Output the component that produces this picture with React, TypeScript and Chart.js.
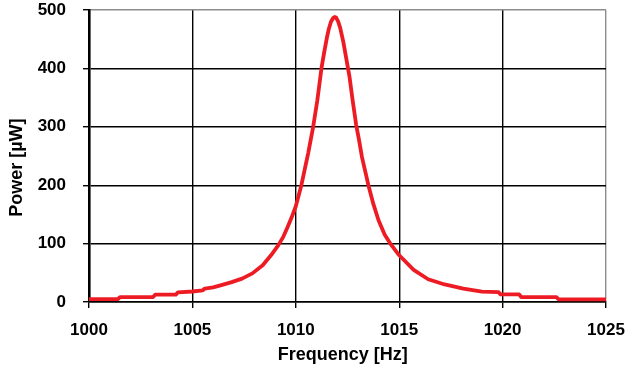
import React, { useEffect, useRef } from "react";
import { Chart, registerables } from "chart.js";

Chart.register(...registerables);

// Frequency [Hz] of each sampled point
const frequencies = [
  1000, 1001.4, 1001.5, 1003.1, 1003.2, 1004.2, 1004.3, 1005.0, 1005.5, 1005.6,
  1006.0, 1006.4, 1006.9, 1007.4, 1007.9, 1008.4, 1008.8, 1009.15, 1009.4, 1009.6,
  1009.8, 1010.0, 1010.27, 1010.45, 1010.6, 1010.84, 1011.04, 1011.24, 1011.37, 1011.5,
  1011.6, 1011.7, 1011.8, 1011.88, 1011.95, 1012.05, 1012.15, 1012.3, 1012.45, 1012.6,
  1012.75, 1012.92, 1013.05, 1013.2, 1013.35, 1013.51, 1013.75, 1014.0, 1014.3, 1014.57,
  1015.0, 1015.7, 1016.4, 1017.2, 1018.1, 1019.0, 1019.8, 1019.9, 1020.8, 1020.9,
  1022.6, 1022.7, 1025,
];

// Power [µW] at each frequency
const powers = [
  5, 5, 8.5, 8.5, 12.5, 12.5, 16.5, 18, 20, 23,
  25, 29, 34, 40, 49, 63, 80, 97, 112, 128,
  145, 164, 200, 230, 255, 300, 345, 400, 427, 452,
  468, 480, 486, 488, 487, 480, 469, 445, 415, 385,
  345, 303, 279, 248, 225, 200, 168, 140, 115, 100,
  80, 55, 39, 30, 23, 17.6, 17, 13, 13, 8.5,
  8.5, 4.6, 4.6,
];

const xTicks = [1000, 1005, 1010, 1015, 1020, 1025];
const yTicks = [0, 100, 200, 300, 400, 500];
const xTitle = "Frequency [Hz]";
const yTitle = "Power [µW]";

const FONT = "'Liberation Sans', Arial, Helvetica, sans-serif";

export default function App() {
  const ref = useRef<HTMLCanvasElement>(null);

  useEffect(() => {
    if (!ref.current) return;

    const titlesPlugin = {
      id: "axisTitles",
      afterDraw(chart: any) {
        const { ctx, chartArea } = chart;
        ctx.save();
        ctx.font = `bold 18px ${FONT}`;
        ctx.fillStyle = "#000";
        ctx.textAlign = "center";
        ctx.textBaseline = "middle";
        const w = chartArea.right - chartArea.left;
        const h = chartArea.bottom - chartArea.top;
        ctx.fillText(xTitle, chartArea.left + w * 0.491, chartArea.bottom + 53);
        ctx.translate(chartArea.left - 72, chartArea.top + h * 0.54);
        ctx.rotate(-Math.PI / 2);
        ctx.fillText(yTitle, 0, 0);
        ctx.restore();
      },
    };

    const zeroPad = (scale: any) => {
      scale.paddingTop = 0;
      scale.paddingBottom = 0;
      scale.paddingLeft = 0;
      scale.paddingRight = 0;
    };

    const chart = new Chart(ref.current, {
      type: "line",
      data: {
        datasets: [
          {
            data: frequencies.map((f, i) => ({ x: f, y: powers[i] })),
            borderColor: "rgb(237, 28, 36)",
            borderWidth: 3.8,
            pointRadius: 0,
            tension: 0,
            fill: false,
            borderJoinStyle: "round",
          },
        ],
      },
      options: {
        responsive: false,
        animation: false,
        layout: { padding: { left: 0, top: 10, right: 19, bottom: 0 } },
        plugins: {
          legend: { display: false },
          tooltip: { enabled: false },
        },
        scales: {
          x: {
            type: "linear",
            min: xTicks[0],
            max: xTicks[xTicks.length - 1],
            afterBuildTicks: (scale: any) => {
              scale.ticks = xTicks.map((v) => ({ value: v }));
            },
            afterFit: (scale: any) => {
              scale.height = 70;
              zeroPad(scale);
            },
            ticks: {
              autoSkip: false,
              maxRotation: 0,
              padding: 12,
              color: "#000",
              font: { family: FONT, size: 17, weight: "bold" },
              callback: (v: any) => String(v),
            },
            grid: {
              color: (ctx: any) =>
                ctx.tick && ctx.tick.value === xTicks[xTicks.length - 1] ? "#8c8c8c" : "#000",
              lineWidth: 1.4,
              tickLength: 6,
              tickColor: "#000",
            },
            border: { display: true, color: "#000", width: 1.6 },
          },
          y: {
            type: "linear",
            min: yTicks[0],
            max: yTicks[yTicks.length - 1],
            afterBuildTicks: (scale: any) => {
              scale.ticks = yTicks.map((v) => ({ value: v }));
            },
            afterFit: (scale: any) => {
              scale.width = 89;
              zeroPad(scale);
            },
            ticks: {
              padding: 17,
              color: "#000",
              font: { family: FONT, size: 17, weight: "bold" },
              callback: (v: any) => String(v),
            },
            grid: {
              color: (ctx: any) =>
                ctx.tick && ctx.tick.value === yTicks[yTicks.length - 1] ? "#8c8c8c" : "#000",
              lineWidth: 1.4,
              tickLength: 6,
              tickColor: "#000",
            },
            border: { display: true, color: "#000", width: 2.6 },
          },
        },
      },
      plugins: [titlesPlugin],
    });

    return () => chart.destroy();
  }, []);

  return (
    <div style={{ position: "absolute", left: 0, top: 0, width: 625, height: 372, background: "#fff" }}>
      <canvas ref={ref} width={625} height={372} style={{ display: "block" }} />
    </div>
  );
}
